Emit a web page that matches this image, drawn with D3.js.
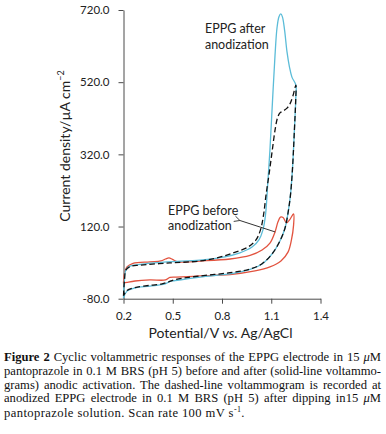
<!DOCTYPE html>
<html>
<head>
<meta charset="utf-8">
<script src="https://cdn.jsdelivr.net/npm/d3@7"></script>
<style>
  body { margin: 0; background: #fff; }
  #wrap { position: relative; width: 386px; height: 434px; overflow: hidden; }
  svg { position: absolute; left: 0; top: 0; }
  .cap { position: absolute; left: 4px; width: 377px; font-family: "Liberation Serif", serif;
         font-size: 12.6px; color: #111; white-space: nowrap; line-height: 1; }
  .cap.j { text-align: justify; text-align-last: justify; }
  .cap.last { letter-spacing: 0.4px; }
</style>
</head>
<body>
<div id="wrap"></div>
<script>
// CV curves, [potential V, current density uA cm-2]
const afterAnod = [
  [0.200, -78], [0.205, -34], [0.212, -3], [0.233, 9], [0.300, 15], [0.465, 22], [0.666, 27],
  [0.818, 36], [0.909, 47], [0.983, 63], [1.025, 83], [1.049, 110], [1.065, 152], [1.080, 249],
  [1.092, 332], [1.108, 471], [1.123, 595], [1.135, 670], [1.147, 701], [1.158, 709], [1.168, 701],
  [1.181, 665], [1.196, 604], [1.211, 562], [1.226, 534], [1.250, 512],
  [1.249, 471], [1.241, 387], [1.229, 277], [1.217, 207], [1.202, 157], [1.184, 116], [1.153, 80],
  [1.105, 44], [1.044, 16], [0.971, 1], [0.867, -10], [0.666, -20], [0.514, -30], [0.483, -32],
  [0.453, -39], [0.361, -45], [0.270, -50], [0.221, -59], [0.200, -78]
];
const beforeAnod = [
  [0.200, -37], [0.206, -9], [0.221, 8], [0.258, 18], [0.361, 22], [0.428, 24.5], [0.456, 30],
  [0.477, 33], [0.498, 29], [0.532, 22], [0.666, 24.5], [0.849, 30], [0.971, 40], [1.044, 55],
  [1.092, 74], [1.123, 105], [1.141, 133], [1.156, 146], [1.172, 145], [1.193, 130], [1.211, 138],
  [1.236, 155],
  [1.236, 124], [1.223, 83], [1.202, 49], [1.159, 24.5], [1.092, 8], [1.001, -3], [0.849, -13],
  [0.666, -17], [0.520, -20], [0.483, -21], [0.456, -28], [0.361, -28], [0.270, -31], [0.221, -35],
  [0.200, -37]
];
const dipped = [
  [0.200, -72], [0.206, -28], [0.215, 0], [0.240, 9], [0.300, 13], [0.483, 19], [0.666, 24.5],
  [0.770, 33], [0.867, 47], [0.958, 63], [1.007, 83], [1.034, 110], [1.053, 152], [1.068, 207],
  [1.086, 263], [1.105, 327], [1.123, 387], [1.138, 421], [1.153, 435], [1.172, 440], [1.196, 448],
  [1.214, 460], [1.232, 482], [1.250, 512],
  [1.249, 471], [1.241, 387], [1.229, 277], [1.217, 207], [1.202, 157], [1.184, 116], [1.153, 80],
  [1.105, 44], [1.044, 17], [0.971, 2], [0.867, -7], [0.666, -17], [0.514, -27], [0.471, -34],
  [0.435, -39], [0.361, -43], [0.270, -49], [0.221, -57], [0.200, -72]
];
const xTicks = [0.2, 0.5, 0.8, 1.1, 1.4];
const yTicks = [-80, 120, 320, 520, 720];

const captionLines = [
  '<b>Figure 2</b> Cyclic voltammetric responses of the EPPG electrode in 15 <i>&mu;</i>M',
  'pantoprazole in 0.1 M BRS (pH 5) before and after (solid-line voltammo-',
  'grams) anodic activation. The dashed-line voltammogram is recorded at',
  'anodized EPPG electrode in 0.1 M BRS (pH 5) after dipping in15 <i>&mu;</i>M',
  'pantoprazole solution. Scan rate 100 mV s<sup style="font-size:8px">-1</sup>.'
];

const W = 386, H = 434;
const font = "Lato, 'Open Sans', sans-serif";

const wrap = d3.select("#wrap");
const svg = wrap.append("svg").attr("width", W).attr("height", H);

const x = d3.scaleLinear().domain([0.2, 1.4]).range([123.5, 320.5]);
const y = d3.scaleLinear().domain([-80, 720]).range([298.7, 10]);

// axes
const yAxis = svg.append("g")
    .attr("transform", `translate(${x(0.2)},0)`)
    .call(d3.axisLeft(y).tickValues(yTicks).tickFormat(d => d.toFixed(1))
        .tickSize(5).tickSizeOuter(0).tickPadding(9));
const xAxis = svg.append("g")
    .attr("transform", `translate(0,${y(-80)})`)
    .call(d3.axisBottom(x).tickValues(xTicks).tickFormat(d => d.toFixed(1))
        .tickSize(5).tickSizeOuter(0).tickPadding(8));
[xAxis, yAxis].forEach(g => {
  g.select(".domain").attr("stroke", "#4a4a4a");
  g.selectAll(".tick line").attr("stroke", "#4a4a4a");
  g.selectAll(".tick text").attr("fill", "#222").style("font-family", font).style("font-size", "11.5px");
});

// curves
const line = d3.line()
    .x(d => x(d[0])).y(d => y(d[1]))
    .curve(d3.curveCatmullRom.alpha(0.5));

svg.append("path").datum(beforeAnod)
    .attr("fill", "none").attr("stroke", "#e2533f").attr("stroke-width", 1.3)
    .attr("d", line);
svg.append("path").datum(afterAnod)
    .attr("fill", "none").attr("stroke", "#5bbcd8").attr("stroke-width", 1.3)
    .attr("d", line);
svg.append("path").datum(dipped)
    .attr("fill", "none").attr("stroke", "#111").attr("stroke-width", 1.3)
    .attr("stroke-dasharray", "5.5,3")
    .attr("d", line);

// annotations
const note = (lines, e, j) => {
  const t = svg.append("text")
      .attr("x", x(e)).attr("y", y(j))
      .style("font-family", font).style("font-size", "12.5px").attr("fill", "#222");
  lines.forEach((s, i) => t.append("tspan").attr("x", x(e)).attr("dy", i ? 15.5 : 0).text(s));
};
note(["EPPG after", "anodization"], 0.696, 656);
note(["EPPG before", "anodization"], 0.471, 152);

svg.append("defs").append("marker")
    .attr("id", "arr").attr("viewBox", "0 0 10 10")
    .attr("refX", 1).attr("refY", 5)
    .attr("markerWidth", 7).attr("markerHeight", 7)
    .attr("orient", "auto-start-reverse")
    .append("path").attr("d", "M9,1 L1,5 L9,9")
    .attr("fill", "none").attr("stroke", "#333").attr("stroke-width", 1.2);
svg.append("line")
    .attr("x1", x(1.124)).attr("y1", y(105))
    .attr("x2", x(0.909)).attr("y2", y(136.7))
    .attr("stroke", "#333").attr("stroke-width", 1)
    .attr("marker-end", "url(#arr)");

// axis titles
const yt = svg.append("text")
    .attr("transform", "translate(70,146) rotate(-90)")
    .attr("text-anchor", "middle")
    .style("font-family", font).style("font-size", "14px").attr("fill", "#222");
yt.append("tspan").text("Current density/\u00b5A cm");
yt.append("tspan").attr("dy", -6).style("font-size", "9px").text("\u22122");

const xt = svg.append("text")
    .attr("x", 220.5).attr("y", 338)
    .attr("text-anchor", "middle")
    .style("font-family", font).style("font-size", "14px").attr("fill", "#222");
xt.append("tspan").text("Potential/V ");
xt.append("tspan").style("font-style", "italic").text("vs.");
xt.append("tspan").text(" Ag/AgCl");

// caption
captionLines.forEach((s, i) => {
  wrap.append("div")
      .attr("class", i < captionLines.length - 1 ? "cap j" : "cap last")
      .style("top", (351 + i * 13.8) + "px")
      .html(s);
});
</script>
</body>
</html>
